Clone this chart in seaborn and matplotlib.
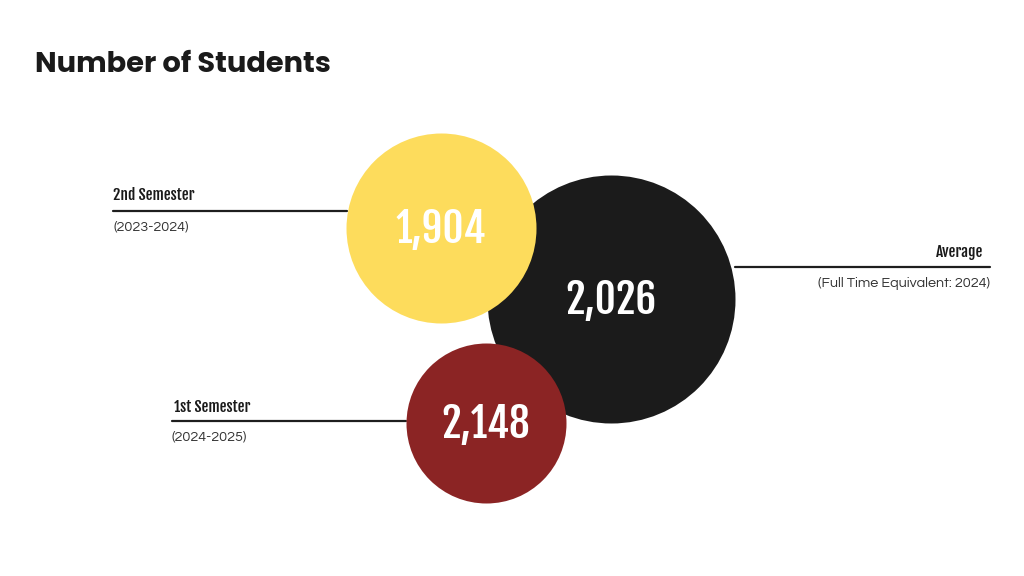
import matplotlib
matplotlib.use("Agg")
import matplotlib.pyplot as plt
import pandas as pd
import seaborn as sns

# dados
labels = ["Average", "2nd Semester", "1st Semester"]
periods = ["(Full Time Equivalent: 2024)", "(2023-2024)", "(2024-2025)"]
values = [2026, 1904, 2148]
colors = ["#1b1b1b", "#fddc5c", "#8b2424"]

# layout (pixels)
cx = [611, 441, 486]
cy = [299, 228, 423]
radius = [124, 95, 80]

data = pd.DataFrame({"label": labels, "periodo": periods, "valor": values,
                     "x": cx, "y": cy, "r": radius})
data["s"] = (data["r"] * 2 * 0.72) ** 2  # area do marcador em pt^2

sns.set_theme(style="white")
fig = plt.figure(figsize=(10.24, 5.76), dpi=100)
ax = fig.add_axes([0, 0, 1, 1])
ax.set_xlim(0, 1024)
ax.set_ylim(576, 0)
ax.axis("off")

# linhas guia
line_color = "#1e1e1e"
ax.plot([113, 347], [211, 211], color=line_color, lw=1.6, zorder=1)
ax.plot([735, 990], [267, 267], color=line_color, lw=1.6, zorder=1)
ax.plot([172, 406], [421, 421], color=line_color, lw=1.6, zorder=1)

# circulos (preto, amarelo, vermelho)
for i in range(len(data)):
    sns.scatterplot(x=[data.x[i]], y=[data.y[i]], s=data.s[i], color=colors[i],
                    linewidth=0, ax=ax, zorder=2 + i, legend=False)

cond = ["Fjalla One", "Barlow Condensed", "Fira Sans Extra Condensed", "DejaVu Sans"]
for i in range(len(data)):
    ax.text(data.x[i], data.y[i] + 1, f"{data.valor[i]:,}", color="white",
            fontsize=29.5, fontweight="bold", family=cond,
            ha="center", va="center", zorder=10)

ax.text(35, 66, "Number of Students", fontsize=20.8, fontweight="bold",
        family=["Poppins", "DejaVu Sans"], color="#1a1a1a", va="center")

# rotulos
lab_font = dict(family=cond, fontweight="bold", fontsize=11, color="#1a1a1a")
sub_font = dict(family=["Questrial", "DejaVu Sans"], fontsize=10.4, color="#333333")

ax.text(113, 195, labels[1], va="center", ha="left", **lab_font)
ax.text(113, 227, periods[1], va="center", ha="left", **sub_font)

ax.text(983, 252, labels[0], va="center", ha="right", **lab_font)
ax.text(990, 283, periods[0], va="center", ha="right", **sub_font)

ax.text(174, 407, labels[2], va="center", ha="left", **lab_font)
ax.text(172, 437, periods[2], va="center", ha="left", **sub_font)

fig.savefig("out.png", dpi=100, facecolor="white")
